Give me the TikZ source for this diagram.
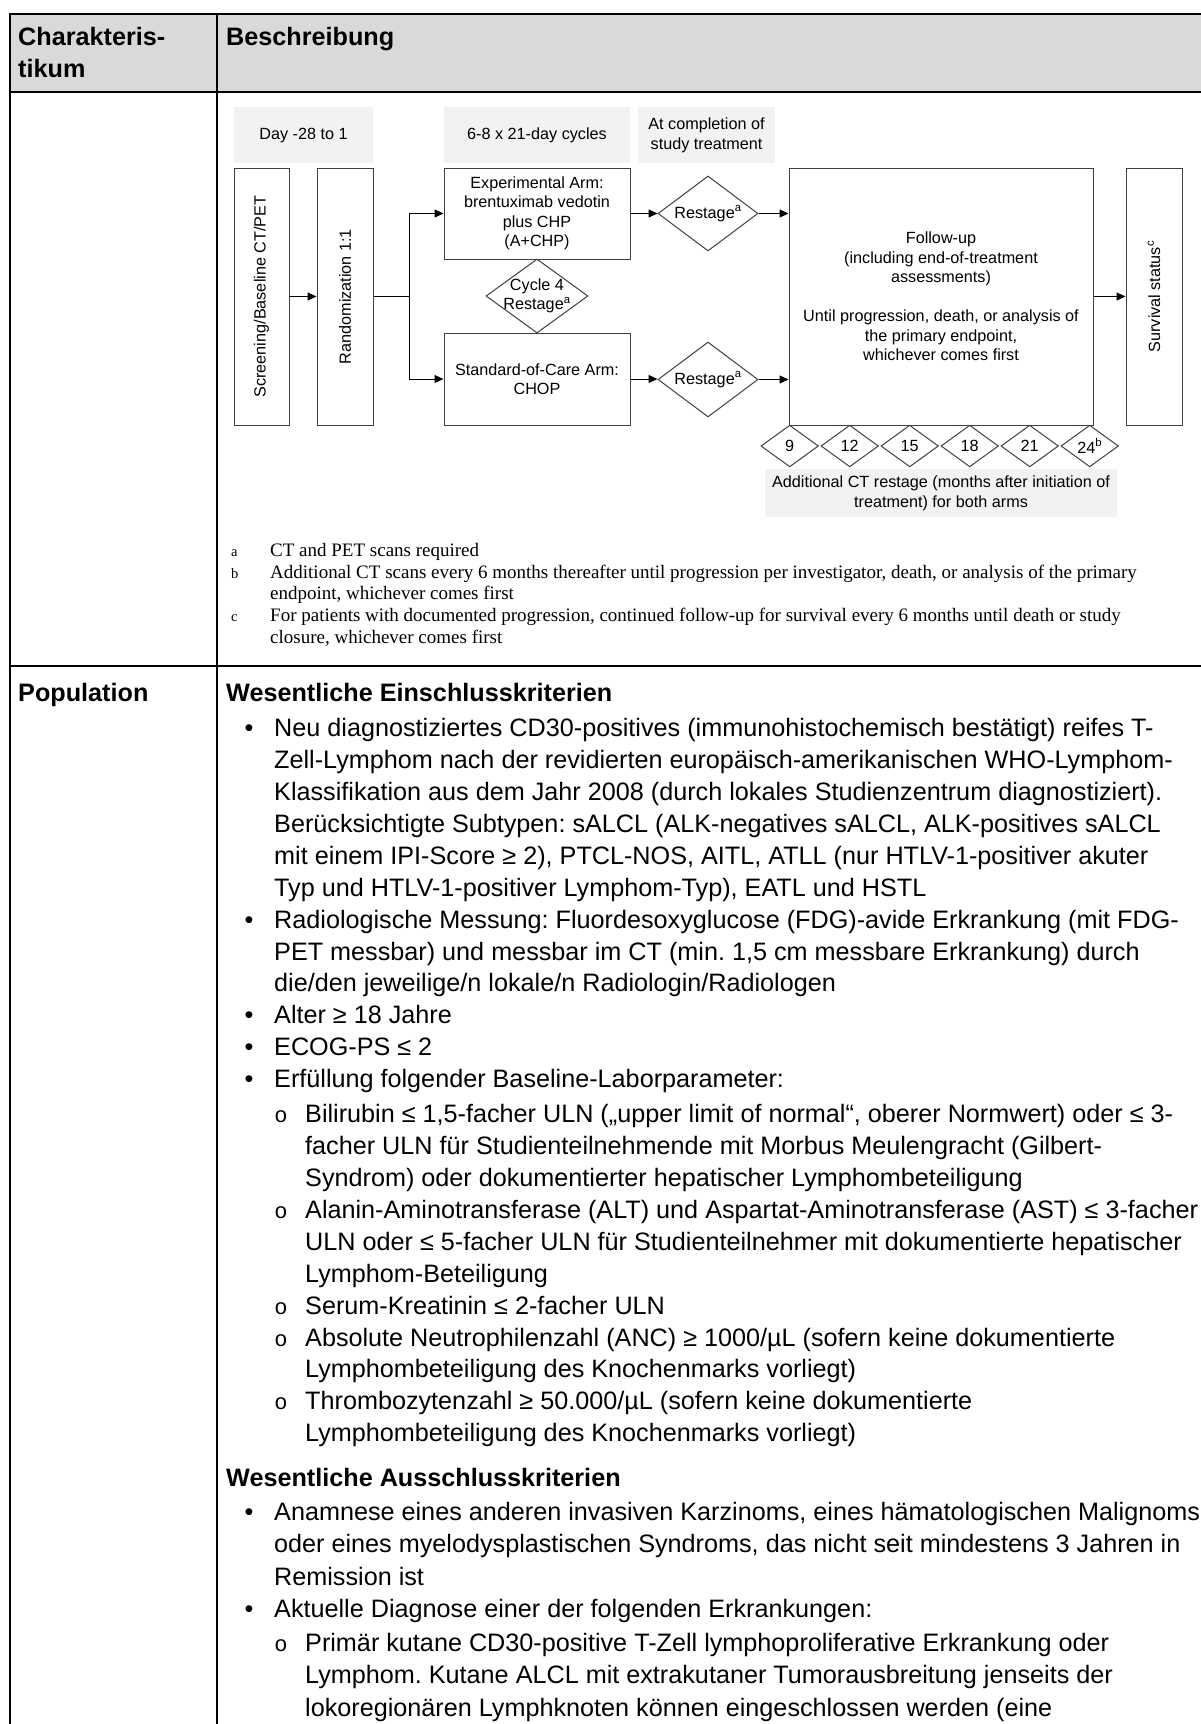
\documentclass[tikz,border=0pt]{standalone}
\usepackage{fontspec}
\setmainfont{Liberation Sans}
\newfontfamily\fnserif{Liberation Serif}
\newfontfamily\fnmono{Liberation Mono}
\usetikzlibrary{shapes.geometric,arrows.meta}
\definecolor{hdrgray}{HTML}{D9D9D9}
\definecolor{lblgray}{HTML}{F2F2F2}
\definecolor{boxline}{HTML}{404040}
\frenchspacing
\newcommand\bodyfont{\fontsize{25.2}{32}\selectfont}
\newcommand\diagfont{\fontsize{16.2}{19.5}\selectfont}
\newcommand\mkbul[2]{\node[bul] (#1) at (249,#2) {•};}
\newcommand\mksub[2]{\node[sub] (#1) at (281,#2) {o};}
\newcommand\lineA[3]{\node[body] (#1) at (274,#2) {#3};}
\newcommand\lineB[3]{\node[body] (#1) at (305,#2) {#3};}
\begin{document}
\begin{tikzpicture}[x=1pt,y=-1pt,
  tline/.style={line width=2.2pt,black},
  hdr/.style={anchor=base west,inner sep=0,font=\bodyfont\bfseries},
  body/.style={anchor=base west,inner sep=0,font=\bodyfont},
  bul/.style={anchor=base,inner sep=0,font=\bodyfont},
  sub/.style={anchor=base,inner sep=0,font=\fnmono\fontsize{22}{26}\selectfont},
  lbl/.style={fill=lblgray,draw=none,align=center,font=\diagfont,inner sep=2pt},
  box/.style={draw=boxline,line width=1pt,fill=white,align=center,font=\diagfont},
  dia/.style={diamond,draw=boxline,line width=1pt,fill=white,inner sep=0},
  dtext/.style={align=center,font=\diagfont,inner sep=0},
  vtext/.style={rotate=90,font=\diagfont,inner sep=0},
  arr/.style={-{Triangle[length=9pt,width=8pt]},line width=1pt,black},
  fnl/.style={anchor=base west,inner sep=0,font=\fnserif\fontsize{14.5}{17}\selectfont},
  fnt/.style={anchor=base west,inner sep=0,font=\fnserif\fontsize{19}{22}\selectfont}]
\clip (0,0) rectangle (1201,1724);
\fill[white] (0,0) rectangle (1201,1724);
% table
\fill[hdrgray] (9.6,14) rectangle (1201,92);
\draw[tline] (9.6,14) -- (1201,14);
\draw[tline] (9.6,92) -- (1201,92);
\draw[tline] (9.6,666) -- (1201,666);
\draw[tline] (9.6,12.9) -- (9.6,1730);
\draw[tline] (216.7,12.9) -- (216.7,1730);
\node[hdr] (h1) at (18,45) {Charakteris-};
\node[hdr] (h2) at (18,77) {tikum};
\node[hdr] (h3) at (226,45) {Beschreibung};
% diagram labels
\node[lbl,minimum width=139,minimum height=56] (dlbl) at (303.5,135.3) {Day -28 to 1};
\node[lbl,minimum width=186,minimum height=56] (clbl) at (537,135.3) {6-8 x 21-day cycles};
\node[lbl,minimum width=137,minimum height=56] (elbl) at (706.5,135.3) {At completion of\\study treatment};
% boxes
\node[box,minimum width=55,minimum height=257] (scr) at (261.5,296.5) {};
\node[vtext] (scrt) at (scr.center) {Screening/Baseline CT/PET};
\node[box,minimum width=56,minimum height=257] (rnd) at (345,296.5) {};
\node[vtext] (rndt) at (rnd.center) {Randomization 1:1};
\node[box,minimum width=186,minimum height=91] (exp) at (537,213.5) {Experimental Arm:\\brentuximab vedotin\\plus CHP\\(A+CHP)};
\node[box,minimum width=186,minimum height=92] (soc) at (537,379) {Standard-of-Care Arm:\\CHOP};
\node[box,minimum width=304,minimum height=257] (fu) at (941,296.5) {Follow-up\\(including end-of-treatment\\assessments)\\[19.5pt]Until progression, death, or analysis of\\the primary endpoint,\\whichever comes first};
\node[box,minimum width=56,minimum height=257] (sv) at (1154,296.5) {};
\node[vtext] (svt) at (sv.center) {Survival status\textsuperscript{c}};
% diamonds
\node[dia,minimum width=102,minimum height=74] (c4) at (537,296) {};
\node[dtext] (c4t) at (c4.center) {Cycle 4\\Restage\textsuperscript{a}};
\node[dia,minimum width=100,minimum height=75] (r1) at (708,213.5) {};
\node[dtext] (r1t) at (r1.center) {Restage\textsuperscript{a}};
\node[dia,minimum width=100,minimum height=75] (r2) at (708,379.5) {};
\node[dtext] (r2t) at (r2.center) {Restage\textsuperscript{a}};
\foreach \i/\t in {0/9,1/12,2/15,3/18,4/21,5/{24\textsuperscript{b}}}{
  \node[dia,minimum width=57.5,minimum height=41.7] (m\i) at (789.7+60*\i,446) {};
  \node[dtext] (mt\i) at (m\i.center) {\t};
}
\node[lbl,minimum width=352,minimum height=48] (addl) at (941,493.2) {Additional CT restage (months after initiation of\\treatment) for both arms};
% connectors
\coordinate (sp) at (409,296.5);
\draw[arr] (scr.east) -- (rnd.west);
\draw[line width=1pt] (rnd.east) -- (sp);
\draw[arr] (sp) |- (exp.west);
\draw[arr] (sp) |- (soc.west);
\draw[arr] (exp.east) -- (r1.west);
\draw[arr] (soc.east) -- (soc.east -| r2.west);
\draw[arr] (r1.east) -- (r1.east -| fu.west);
\draw[arr] (r2.east) -- (r2.east -| fu.west);
\draw[arr] (fu.east) -- (sv.west);
% footnotes
\node[fnl] (fa) at (231,556) {a};
\node[fnt] (fat) at (270,556) {CT and PET scans required};
\node[fnl] (fb) at (231,578) {b};
\node[fnt] (fbt) at (270,578) {Additional CT scans every 6 months thereafter until progression per investigator, death, or analysis of the primary};
\node[fnt] (fbt2) at (270,599.5) {endpoint, whichever comes first};
\node[fnl] (fc) at (231,621.5) {c};
\node[fnt] (fct) at (270,621.5) {For patients with documented progression, continued follow-up for survival every 6 months until death or study};
\node[fnt] (fct2) at (270,643) {closure, whichever comes first};
% population row
\node[hdr] (pop) at (18,701) {Population};
\node[hdr] (ein) at (226,701) {Wesentliche Einschlusskriterien};
\mkbul{b1}{736.5}
\lineA{l1}{736.5}{Neu diagnostiziertes CD30-positives (immunohistochemisch bestätigt) reifes T-}
\lineA{l2}{768.5}{Zell-Lymphom nach der revidierten europäisch-amerikanischen WHO-Lymphom-}
\lineA{l3}{800.5}{Klassifikation aus dem Jahr 2008 (durch lokales Studienzentrum diagnostiziert).}
\lineA{l4}{832}{Berücksichtigte Subtypen: sALCL (ALK-negatives sALCL, ALK-positives sALCL}
\lineA{l5}{864}{mit einem IPI-Score ≥ 2), PTCL-NOS, AITL, ATLL (nur HTLV-1-positiver akuter}
\lineA{l6}{896}{Typ und HTLV-1-positiver Lymphom-Typ), EATL und HSTL}
\mkbul{b2}{928}
\lineA{l7}{928}{Radiologische Messung: Fluordesoxyglucose (FDG)-avide Erkrankung (mit FDG-}
\lineA{l8}{960}{PET messbar) und messbar im CT (min. 1,5 cm messbare Erkrankung) durch}
\lineA{l9}{991.5}{die/den jeweilige/n lokale/n Radiologin/Radiologen}
\mkbul{b3}{1023.5}
\lineA{l10}{1023.5}{Alter ≥ 18 Jahre}
\mkbul{b4}{1055.5}
\lineA{l11}{1055.5}{ECOG-PS ≤ 2}
\mkbul{b5}{1087.5}
\lineA{l12}{1087.5}{Erfüllung folgender Baseline-Laborparameter:}
\mksub{s1}{1122.7}
\lineB{l13}{1122.7}{Bilirubin ≤ 1,5-facher ULN („upper limit of normal“, oberer Normwert) oder ≤ 3-}
\lineB{l14}{1154.6}{facher ULN für Studienteilnehmende mit Morbus Meulengracht (Gilbert-}
\lineB{l15}{1186.5}{Syndrom) oder dokumentierter hepatischer Lymphombeteiligung}
\mksub{s2}{1218.4}
\lineB{l16}{1218.4}{Alanin-Aminotransferase (ALT) und Aspartat-Aminotransferase (AST) ≤ 3-facher}
\lineB{l17}{1250.3}{ULN oder ≤ 5-facher ULN für Studienteilnehmer mit dokumentierte hepatischer}
\lineB{l18}{1282.2}{Lymphom-Beteiligung}
\mksub{s3}{1314.1}
\lineB{l19}{1314.1}{Serum-Kreatinin ≤ 2-facher ULN}
\mksub{s4}{1346}
\lineB{l20}{1346}{Absolute Neutrophilenzahl (ANC) ≥ 1000/µL (sofern keine dokumentierte}
\lineB{l21}{1377.9}{Lymphombeteiligung des Knochenmarks vorliegt)}
\mksub{s5}{1409.8}
\lineB{l22}{1409.8}{Thrombozytenzahl ≥ 50.000/µL (sofern keine dokumentierte}
\lineB{l23}{1441.7}{Lymphombeteiligung des Knochenmarks vorliegt)}
\node[hdr] (aus) at (226,1486) {Wesentliche Ausschlusskriterien};
\mkbul{b6}{1520}
\lineA{a1}{1520}{Anamnese eines anderen invasiven Karzinoms, eines hämatologischen Malignoms}
\lineA{a2}{1552.5}{oder eines myelodysplastischen Syndroms, das nicht seit mindestens 3 Jahren in}
\lineA{a3}{1585}{Remission ist}
\mkbul{b7}{1617}
\lineA{a4}{1617}{Aktuelle Diagnose einer der folgenden Erkrankungen:}
\mksub{s6}{1651}
\lineB{a5}{1651}{Primär kutane CD30-positive T-Zell lymphoproliferative Erkrankung oder}
\lineB{a6}{1683.5}{Lymphom. Kutane ALCL mit extrakutaner Tumorausbreitung jenseits der}
\lineB{a7}{1716}{lokoregionären Lymphknoten können eingeschlossen werden (eine}
\end{tikzpicture}
\end{document}
